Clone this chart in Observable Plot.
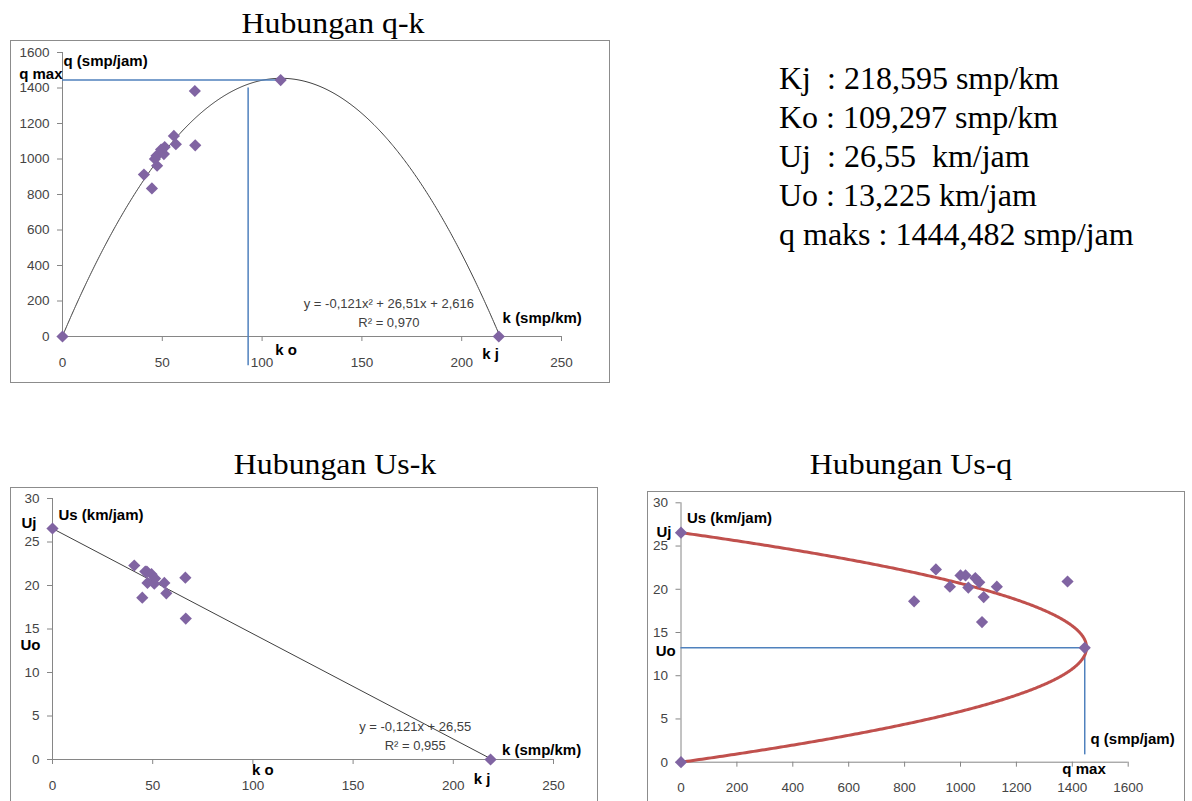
<!DOCTYPE html>
<html>
<head>
<meta charset="utf-8">
<script src="https://cdn.jsdelivr.net/npm/d3@7"></script>
<script src="https://cdn.jsdelivr.net/npm/@observablehq/plot@0.6"></script>
<style>
  html, body { margin: 0; padding: 0; background: #fff; }
  body { position: relative; width: 1192px; height: 801px; overflow: hidden; }
  .title { position: absolute; font-family: "Liberation Serif", "Times New Roman", serif; font-size: 30px; line-height: 30px; white-space: nowrap; transform: translateX(-50%) scaleX(1.06); color: #000; }
  .frame { position: absolute; box-sizing: border-box; border: 1px solid #8c8c8c; pointer-events: none; }
  .chart { position: absolute; }
  .chart svg { overflow: visible; }
  #params { position: absolute; left: 779px; top: 59px; font-family: "Liberation Serif", "Times New Roman", serif; font-size: 32px; line-height: 39px; white-space: pre; color: #000; }
</style>
</head>
<body>
<div class="title" style="left:333px; top:8px;">Hubungan q-k</div>
<div class="title" style="left:335px; top:449px;">Hubungan Us-k</div>
<div class="title" style="left:911px; top:449px;">Hubungan Us-q</div>
<div id="params"></div>
<div class="chart" id="c1" style="left:10px; top:40px;"></div>
<div class="frame" style="left:10px; top:40px; width:600px; height:343px;"></div>
<div class="chart" id="c2" style="left:10px; top:487px;"></div>
<div class="frame" style="left:10px; top:487px; width:588px; height:330px;"></div>
<div class="chart" id="c3" style="left:647px; top:491px;"></div>
<div class="frame" style="left:647px; top:491px; width:538px; height:330px;"></div>
<script>
// Survey observations: density k (smp/km), flow q (smp/jam), space-mean speed Us (km/jam)
const density = [40.8, 44.8, 47.4, 46.3, 47.1, 50.8, 49.4, 51.2, 56.8, 66.5, 55.8, 66.3];
const flow    = [912, 834, 962, 1000, 1018, 1028, 1053, 1067, 1083, 1077, 1130, 1383];
const speed   = [22.3, 18.6, 20.3, 21.6, 21.6, 20.2, 21.3, 20.8, 19.1, 16.2, 20.3, 20.9];

// Greenshields model parameters
const Kj = 218.595, Ko = 109.297, Uj = 26.55, Uo = 13.225, qMax = 1444.482;
const paramLines = [
  "Kj  : 218,595 smp/km",
  "Ko : 109,297 smp/km",
  "Uj  : 26,55  km/jam",
  "Uo : 13,225 km/jam",
  "q maks : 1444,482 smp/jam"
];

// Fitted trend lines
const qkCoef = [-0.121, 26.51, 2.616];   // q = a k² + b k + c
const ukCoef = [-0.121, 26.55];          // Us = a k + b
const qkEquation = "y = -0,121x² + 26,51x + 2,616", qkR2 = "R² = 0,970";
const ukEquation = "y = -0,121x + 26,55", ukR2 = "R² = 0,955";

// Guide line for k o in the q-k chart
const koGuide = 93;

// Axis ticks
const kTicks = [0, 50, 100, 150, 200, 250];
const qTicks = [0, 200, 400, 600, 800, 1000, 1200, 1400, 1600];
const uTicks = [0, 5, 10, 15, 20, 25, 30];
const qTicksUs = [0, 200, 400, 600, 800, 1000, 1200, 1400, 1600];

document.getElementById("params").textContent = paramLines.join("\n");

const obs = density.map((k, i) => ({k, q: flow[i], u: speed[i]}));
const purple = "#8064A2", blue = "#4F81BD", red = "#C0504D", axisGray = "#868686";
const font = "'Liberation Sans', Arial, sans-serif";
const dot = {symbol: "diamond2", r: 5.5, fill: purple};
const bold = {fontWeight: "bold", fontSize: 15, fill: "#000", fontFamily: font};
const eqStyle = {fontSize: 13, fill: "#404040", fontFamily: font};
const fmt = d => String(d);
const style = {fontFamily: font, fontSize: "13.5px", color: "#444", background: "transparent", overflow: "visible"};

function axes(xt, yt, xPad) {
  return [
    Plot.ruleX([0], {stroke: axisGray}),
    Plot.ruleY([0], {stroke: axisGray}),
    Plot.axisX({ticks: xt, tickSize: 5, tickPadding: xPad, stroke: axisGray, fill: "#444", tickFormat: fmt, label: null}),
    Plot.axisY({ticks: yt, tickSize: 5, tickPadding: 8, stroke: axisGray, fill: "#444", tickFormat: fmt, label: null})
  ];
}

// ---- q-k ----
const kRoot = (-qkCoef[1] - Math.sqrt(qkCoef[1] ** 2 - 4 * qkCoef[0] * qkCoef[2])) / (2 * qkCoef[0]);
const qkCurve = d3.range(0, kRoot, 0.5).concat([kRoot]).map(k => ({k, q: Math.max(0, qkCoef[0] * k * k + qkCoef[1] * k + qkCoef[2])}));
const qkPoints = [{k: 0, q: 0}, {k: Ko, q: qMax}, {k: Kj, q: 0}].concat(obs);

const c1 = Plot.plot({
  width: 600, height: 343,
  marginLeft: 52, marginRight: 49, marginTop: 12, marginBottom: 47,
  x: {domain: [0, 250], label: null},
  y: {domain: [0, 1600], label: null},
  style,
  marks: [
    ...axes(kTicks, qTicks, 16),
    Plot.line(qkCurve, {x: "k", y: "q", stroke: "#404040", strokeWidth: 1}),
    Plot.ruleY([{q: qMax, k1: 0, k2: Ko}], {y: "q", x1: "k1", x2: "k2", stroke: blue, strokeWidth: 1.5}),
    Plot.ruleX([{k: koGuide, q1: -165, q2: 1400}], {x: "k", y1: "q1", y2: "q2", stroke: blue, strokeWidth: 1.5}),
    Plot.dot(qkPoints, {x: "k", y: "q", ...dot}),
    Plot.text([qkEquation], {x: 163.5, y: 186, text: d => d, ...eqStyle}),
    Plot.text([qkR2], {x: 163.5, y: 79, text: d => d, ...eqStyle}),
    Plot.text(["q (smp/jam)"], {x: 0, y: 1549, text: d => d, textAnchor: "start", dx: 1, ...bold}),
    Plot.text(["q max"], {x: 0, y: 1476, text: d => d, textAnchor: "end", ...bold}),
    Plot.text(["k (smp/km)"], {x: 220.5, y: 101, text: d => d, textAnchor: "start", ...bold}),
    Plot.text(["k o"], {x: 112, y: -79, text: d => d, ...bold}),
    Plot.text(["k j"], {x: 214.5, y: -101, text: d => d, ...bold})
  ]
});
document.getElementById("c1").append(c1);

// ---- Us-k ----
const ukLine = [0, Kj].map(k => ({k, u: ukCoef[0] * k + ukCoef[1]}));
const ukPoints = [{k: 0, u: Uj}, {k: Kj, u: 0}].concat(obs);

const c2 = Plot.plot({
  width: 588, height: 320,
  marginLeft: 42, marginRight: 45, marginTop: 11, marginBottom: 48,
  x: {domain: [0, 250], label: null},
  y: {domain: [0, 30], label: null},
  style,
  marks: [
    ...axes(kTicks, uTicks, 16),
    Plot.line(ukLine, {x: "k", y: "u", stroke: "#404040", strokeWidth: 1}),
    Plot.dot(ukPoints, {x: "k", y: "u", ...dot}),
    Plot.text([ukEquation], {x: 181, y: 3.75, text: d => d, ...eqStyle}),
    Plot.text([ukR2], {x: 181, y: 1.56, text: d => d, ...eqStyle}),
    Plot.text(["Us (km/jam)"], {x: 0, y: 28.1, text: d => d, textAnchor: "start", dx: 6, ...bold}),
    Plot.text(["Uj"], {x: 0, y: 27.2, text: d => d, textAnchor: "end", dx: -16, ...bold}),
    Plot.text(["Uo"], {x: 0, y: 13.15, text: d => d, textAnchor: "end", dx: -12, ...bold}),
    Plot.text(["k o"], {x: 105, y: -1.25, text: d => d, ...bold}),
    Plot.text(["k j"], {x: 214.4, y: -2.3, text: d => d, ...bold}),
    Plot.text(["k (smp/km)"], {x: 224.3, y: 1.07, text: d => d, textAnchor: "start", ...bold})
  ]
});
document.getElementById("c2").append(c2);

// ---- Us-q ----
const uqCurve = d3.range(0, Uj, 0.05).concat([Uj]).map(u => ({u, q: Kj * u - (Kj / Uj) * u * u}));
const uqPoints = [{q: 0, u: Uj}, {q: 0, u: 0}, {q: qMax, u: Uo}].concat(obs);

const c3 = Plot.plot({
  width: 538, height: 316,
  marginLeft: 33.5, marginRight: 57.3, marginTop: 11.3, marginBottom: 45.3,
  x: {domain: [0, 1600], label: null},
  y: {domain: [0, 30], label: null},
  style,
  marks: [
    ...axes(qTicksUs, uTicks, 15),
    Plot.ruleY([{u: Uo, q1: 0, q2: qMax}], {y: "u", x1: "q1", x2: "q2", stroke: blue, strokeWidth: 1.5}),
    Plot.ruleX([{q: qMax, u1: 0.85, u2: Uo}], {x: "q", y1: "u1", y2: "u2", stroke: blue, strokeWidth: 1.5}),
    Plot.line(uqCurve, {x: "q", y: "u", stroke: red, strokeWidth: 3}),
    Plot.dot(uqPoints, {x: "q", y: "u", ...dot}),
    Plot.text(["Us (km/jam)"], {x: 0, y: 28.26, text: d => d, textAnchor: "start", dx: 6, ...bold}),
    Plot.text(["Uj"], {x: 0, y: 26.6, text: d => d, textAnchor: "end", dx: -9.5, ...bold}),
    Plot.text(["Uo"], {x: 0, y: 12.84, text: d => d, textAnchor: "end", dx: -5.3, ...bold}),
    Plot.text(["q (smp/jam)"], {x: 1465, y: 2.63, text: d => d, textAnchor: "start", ...bold}),
    Plot.text(["q max"], {x: 1442, y: -0.76, text: d => d, ...bold})
  ]
});
document.getElementById("c3").append(c3);
</script>
</body>
</html>
